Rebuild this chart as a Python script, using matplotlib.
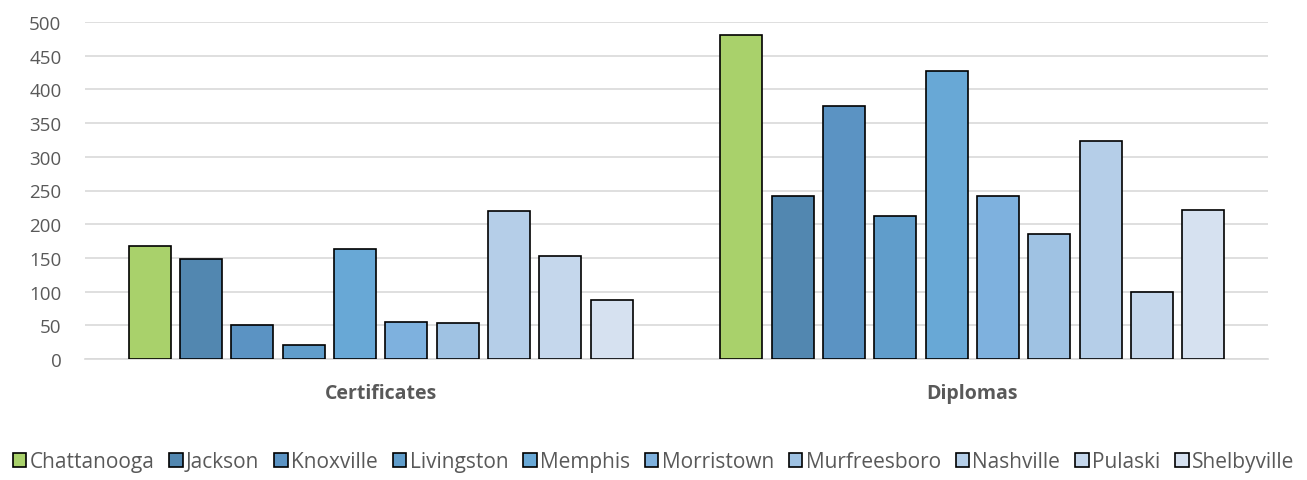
import matplotlib
matplotlib.use("Agg")
import matplotlib.pyplot as plt
import numpy as np
from matplotlib.patches import Patch

plt.rcParams['font.family'] = ['Open Sans', 'DejaVu Sans']

categories = ["Certificates", "Diplomas"]
campuses = ["Chattanooga", "Jackson", "Knoxville", "Livingston", "Memphis",
            "Morristown", "Murfreesboro", "Nashville", "Pulaski", "Shelbyville"]
certificates = [168, 148, 50, 21, 163, 55, 53, 220, 153, 87]
diplomas = [481, 242, 375, 212, 427, 242, 185, 323, 99, 221]
colors = ["#A9D16B", "#5287B0", "#5B93C3", "#609DCB", "#68A8D6",
          "#7EB1DE", "#9FC2E3", "#B5CEE8", "#C5D7EC", "#D6E1F0"]
yticks = [0, 50, 100, 150, 200, 250, 300, 350, 400, 450, 500]

fig = plt.figure(figsize=(13.07, 4.81), dpi=100)
ax = fig.add_axes([85/1307, 1-360/481, (1268-85)/1307, (360-23)/481])

x = np.arange(len(categories))
slot = 0.0868
width = 0.071
n = len(campuses)
for i, (name, col) in enumerate(zip(campuses, colors)):
    vals = [certificates[i], diplomas[i]]
    ax.bar(x + (i - (n-1)/2) * slot, vals, width, color=col,
           edgecolor="black", linewidth=1.2, label=name, zorder=3)

ax.set_xlim(-0.5, 1.5)
ax.set_ylim(0, 500)
ax.set_yticks(yticks)
ax.set_xticks(x)
ax.set_xticklabels(categories, fontweight="bold", fontsize=14, color="#595959")
ax.tick_params(axis='y', labelsize=13.5, colors="#595959", length=0, pad=17)
ax.tick_params(axis='x', length=0, pad=17)
ax.grid(axis='y', color="#D9D9D9", linewidth=1.2, zorder=0)
for s in ["top", "right", "left"]:
    ax.spines[s].set_visible(False)
ax.spines["bottom"].set_color("#D9D9D9")
ax.spines["bottom"].set_linewidth(1.2)

handles = [Patch(facecolor=c, edgecolor="black", linewidth=1.2, label=l)
           for c, l in zip(colors, campuses)]
fig.legend(handles=handles, loc="center", bbox_to_anchor=(0.5, 1-463/481),
           ncol=10, frameon=False, fontsize=15, handlelength=0.65,
           handleheight=0.65, handletextpad=0.15, columnspacing=0.72,
           labelcolor="#595959")

fig.savefig("out.png", dpi=100)
